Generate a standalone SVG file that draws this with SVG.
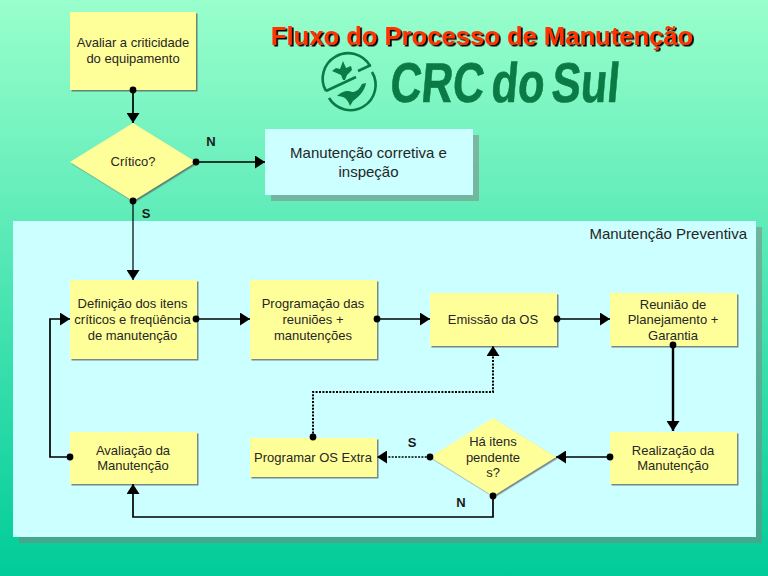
<svg xmlns="http://www.w3.org/2000/svg" width="768" height="576" viewBox="0 0 768 576">
<style>
text{font-family:"Liberation Sans",Arial,sans-serif}
.n{fill:#ffff99;filter:url(#s)}
.t{font-size:13px;fill:#262626;text-anchor:middle}
.p{font-size:15px;fill:#262626}
.c{fill:none;stroke:#000;stroke-width:1.7}
.th{stroke-width:1.2}
.tk{stroke-width:2.4}
.d{stroke-width:2;stroke-dasharray:2 1.4}
.df{stroke-width:1.3;stroke-dasharray:2 1.3}
.b{font-size:13px;font-weight:bold;fill:#1a1a1a;text-anchor:middle}
.sh{fill:#808080;fill-opacity:.5}
.lg{fill:none;stroke:#0b7a45;stroke-width:2.6}
</style>
<defs>
<linearGradient id="bg" x1="0" y1="0" x2="0" y2="1"><stop offset="0" stop-color="#99ffcc"/><stop offset="1" stop-color="#00cc99"/></linearGradient>
<filter id="s" x="-5%" y="-5%" width="110%" height="110%"><feDropShadow dx="1.5" dy="1.5" stdDeviation="0.4" flood-color="#555" flood-opacity="0.7"/></filter>
<filter id="ts" x="-2%" y="-10%" width="104%" height="130%"><feDropShadow dx="1.800" dy="1.500" stdDeviation="0.1" flood-color="#000" flood-opacity="1"/></filter>
<marker id="a" markerUnits="userSpaceOnUse" markerWidth="12" markerHeight="13" refX="10" refY="6.500" orient="auto"><path d="M0 0L10 6.500L0 13Z" fill="#000"/></marker>
<marker id="o" markerUnits="userSpaceOnUse" markerWidth="8" markerHeight="8" refX="4" refY="4"><circle cx="4" cy="4" r="3.400" fill="#000"/></marker>
</defs>
<rect width="768" height="576" fill="url(#bg)"/>
<g id="panel">
<rect class="sh" x="19" y="227" width="743" height="316"/>
<rect x="13" y="221" width="743" height="316" fill="#ccffff"/>
<text class="p" x="747" y="239" text-anchor="end">Manutenção Preventiva</text>
</g>
<g id="title">
<text x="482" y="45" font-size="25.6" font-weight="bold" fill="#ff3300" text-anchor="middle" filter="url(#ts)">Fluxo do Processo de Manutenção</text>
</g>
<g id="logo">
<path class="lg" d="M326 91A25 25 0 0 1 370 66"/>
<path class="lg" d="M326 91L356 77M358 71L371 65"/>
<path class="lg" d="M329 98A25 25 0 0 0 372 72"/>
<path d="M343 61L346 68L351 66L352 70L347 75L345 80L343 80L341 75L332 71L336 68L340 69Z" fill="#0b7a45"/>
<path d="M337 96C342 91 348 90 352 92C356 92 359 90 362 84L366 83C365 90 360 96 353 101L350 106C348 100 345 96 337 96Z" fill="#0b7a45"/>
<text transform="translate(389 102) skewX(-5)" font-size="56" font-weight="bold" fill="#0b7a45" stroke="#0b7a45" stroke-width="0.6" word-spacing="-6" textLength="229" lengthAdjust="spacingAndGlyphs">CRC do Sul</text>
</g>
<g id="avaliar"><rect class="n" x="70" y="12" width="126" height="78"/><text class="t" x="133" y="47">Avaliar a criticidade</text><text class="t" x="133" y="63">do equipamento</text></g>
<g id="critico"><path class="n" d="M70 162L133 123L196 162L133 201Z"/><text class="t" x="133" y="166">Crítico?</text></g>
<g id="corretiva"><rect class="sh" x="271" y="135" width="208" height="66"/><rect x="265" y="129" width="208" height="66" fill="#ccffff"/><text class="t" style="font-size:15px" x="368.500" y="158">Manutenção corretiva e</text><text class="t" style="font-size:15px" x="368.500" y="177">inspeção</text></g>
<g id="definicao"><rect class="n" x="70" y="280" width="127" height="79"/><text class="t" x="132.500" y="308">Definição dos itens</text><text class="t" x="132.500" y="324">críticos e freqüência</text><text class="t" x="132.500" y="340">de manutenção</text></g>
<g id="programacao"><rect class="n" x="250" y="280" width="127" height="79"/><text class="t" x="313" y="308">Programação das</text><text class="t" x="313" y="324">reuniões +</text><text class="t" x="313" y="340">manutenções</text></g>
<g id="emissao"><rect class="n" x="430" y="293" width="127" height="53"/><text class="t" x="493" y="324">Emissão da OS</text></g>
<g id="reuniao"><rect class="n" x="610" y="293" width="127" height="53"/><text class="t" x="673" y="309">Reunião de</text><text class="t" x="673" y="324">Planejamento +</text><text class="t" x="673" y="340">Garantia</text></g>
<g id="realizacao"><rect class="n" x="610" y="432" width="127" height="52"/><text class="t" x="673" y="455">Realização da</text><text class="t" x="673" y="470">Manutenção</text></g>
<g id="pendentes"><path class="n" d="M430 457L493 418L556 457L493 496Z"/><text class="t" x="493" y="446">Há itens</text><text class="t" x="493" y="462">pendente</text><text class="t" x="493" y="477">s?</text></g>
<g id="extra"><rect class="n" x="250" y="438" width="127" height="39"/><text class="t" x="313" y="462">Programar OS Extra</text></g>
<g id="avaliacao"><rect class="n" x="70" y="432" width="127" height="52"/><text class="t" x="133" y="455">Avaliação da</text><text class="t" x="133" y="470">Manutenção</text></g>
<g id="connectors">
<path class="c" d="M133 90V123" marker-start="url(#o)" marker-end="url(#a)"/>
<path class="c" d="M196 162H265" marker-start="url(#o)" marker-end="url(#a)"/>
<path class="c th" d="M133 201V280" marker-start="url(#o)" marker-end="url(#a)"/>
<path class="c" d="M196 319H250" marker-start="url(#o)" marker-end="url(#a)"/>
<path class="c" d="M377 319H430" marker-start="url(#o)" marker-end="url(#a)"/>
<path class="c" d="M557 319H610" marker-start="url(#o)" marker-end="url(#a)"/>
<path class="c tk" d="M673 345V431" marker-start="url(#o)" marker-end="url(#a)"/>
<path class="c" d="M610 457H556" marker-start="url(#o)" marker-end="url(#a)"/>
<path class="c df" d="M430 457H377" marker-start="url(#o)" marker-end="url(#a)"/>
<path class="c d" d="M313 437V392H493V346" marker-start="url(#o)" marker-end="url(#a)"/>
<path class="c" d="M493 496V517H133V484" marker-start="url(#o)" marker-end="url(#a)"/>
<path class="c" d="M70 457H50V319H70" marker-start="url(#o)" marker-end="url(#a)"/>
</g>
<g id="labels">
<text class="b" x="211" y="146">N</text><text class="b" x="146" y="218">S</text><text class="b" x="412" y="447">S</text><text class="b" x="461" y="507">N</text>
</g>
</svg>
